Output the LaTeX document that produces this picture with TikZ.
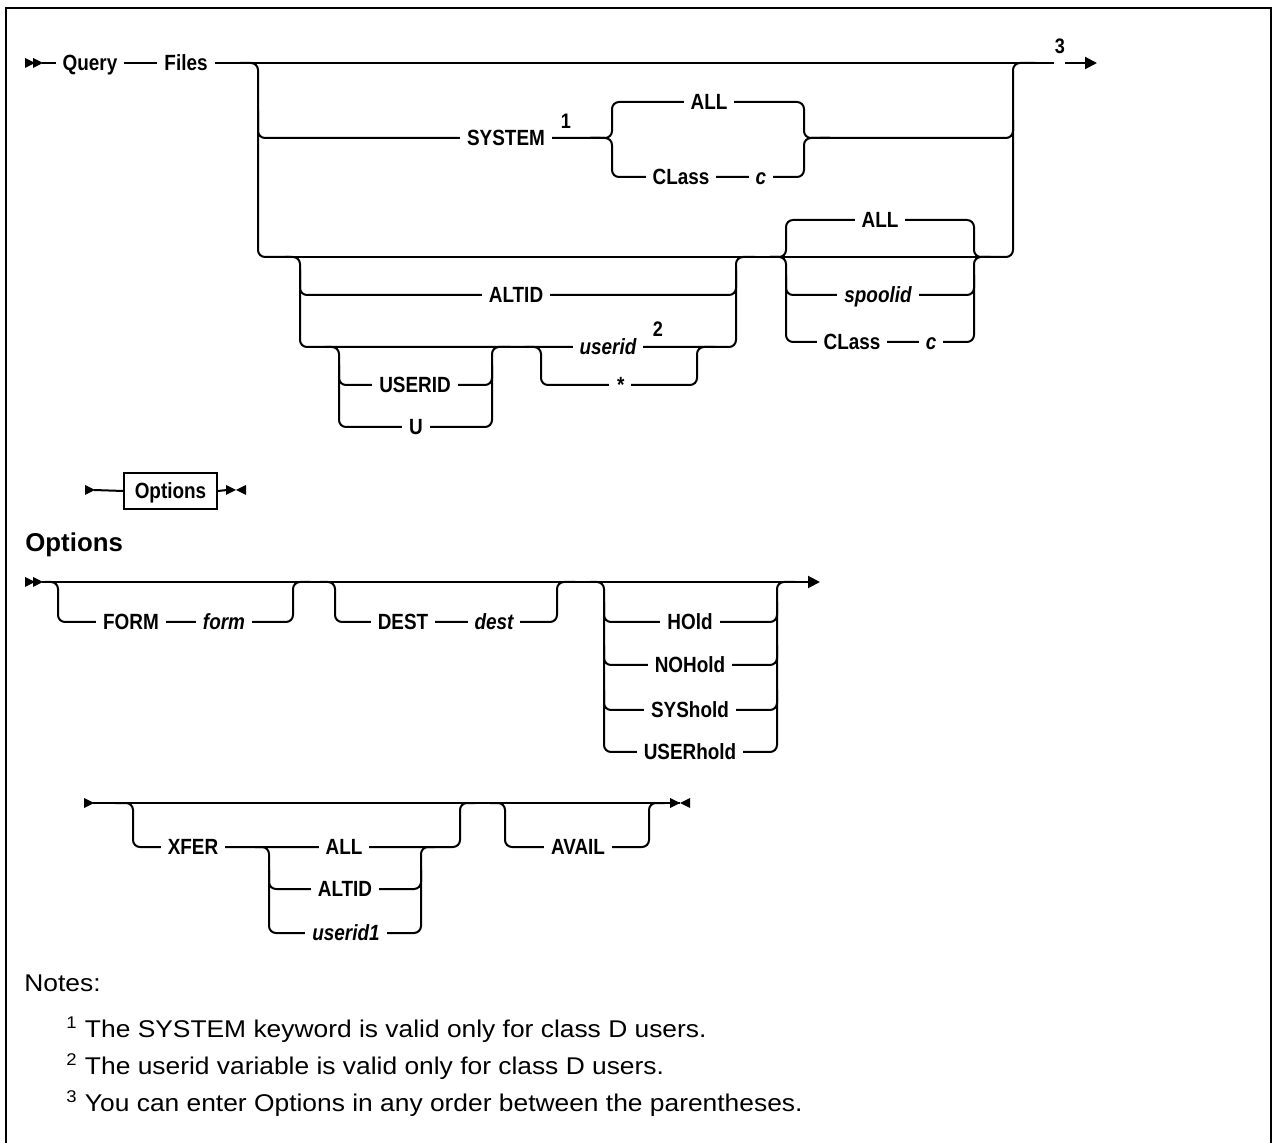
\documentclass[tikz,border=0pt]{standalone}
\usepackage{fontspec}
\setmainfont{Liberation Sans}
\newfontfamily\labelfont[FakeStretch=0.86]{Liberation Sans}
\newfontfamily\notefont[FakeStretch=1.09]{Liberation Sans}
\usetikzlibrary{arrows.meta}

\tikzset{
  rail/.style={line width=1pt},
  railturn/.style={rail,rounded corners=3.5pt},
  kw/.style={font=\labelfont\bfseries\fontsize{11}{13}\selectfont,fill=white,inner xsep=3.5pt,inner ysep=1pt,text height=7.9pt,text depth=0pt},
  var/.style={kw,font=\labelfont\bfseries\itshape\fontsize{11}{13}\selectfont},
  fnote/.style={font=\labelfont\bfseries\fontsize{10.5}{12}\selectfont,inner sep=0pt},
  note/.style={font=\notefont\fontsize{12.1}{14}\selectfont,anchor=base west,inner sep=0pt},
}

\begin{document}
\begin{tikzpicture}[x=0.5pt,y=-0.5pt]
\useasboundingbox (0,0) rectangle (1274,1143);
\draw[line width=1pt] (6,1143) -- (6,8) -- (1271,8) -- (1271,1143);

% Query Files
\fill (25,58) -- (35,63) -- (25,68) -- cycle;
\fill (33,58) -- (43,63) -- (33,68) -- cycle;
\draw[rail] (42,63) -- (1054,63);
\draw[railturn] (240,63) -| (258,257) -- (290,257);
\draw[rail] (280,257) -- (1000,257);
\draw[railturn] (258,110) |- (600,138);
\draw[railturn] (590,138) -| (612,102) -| (804,138) -- (830,138);
\draw[railturn] (590,138) -| (612,177) -| (804,138) -- (830,138);
\draw[railturn] (820,138) -| (1013,120);
\draw[railturn] (990,257) -| (1013,63) -- (1035,63);
\draw[rail,-{Triangle[length=6pt,width=6pt]}] (1065,63) -- (1097,63);
% ALTID / USERID
\draw[railturn] (285,257) -| (300,347) -| (736,257) -- (755,257);
\draw[railturn] (300,270) |- (736,295) -- (736,270);
\draw[railturn] (325,347) -| (339,427) -| (492,347) -- (510,347);
\draw[railturn] (339,365) |- (492,385) -- (492,365);
\draw[railturn] (525,347) -| (541,385) -| (697,347) -- (715,347);
% spoolid
\draw[railturn] (770,257) -| (786,220) -| (974,257) -- (990,257);
\draw[railturn] (770,257) -| (786,342) -| (974,257) -- (990,257);
\draw[railturn] (786,275) |- (974,295) -- (974,275);

\node[kw] (query) at (90,63) {Query};
\node[kw] (files) at (186,63) {Files};
\node[kw] (system) at (506,138) {SYSTEM};
\node[fnote] (fn1) at (566,121) {1};
\node[kw] (sysall) at (709,102) {ALL};
\node[kw] (syscls) at (681,177) {CLass};
\node[var] (sysc) at (761,177) {c};
\node[kw] (altid) at (516,295) {ALTID};
\node[var] (userid) at (608,347) {userid};
\node[fnote] (fn2) at (658,329) {2};
\node[var] (star) at (620,385) {*};
\node[kw] (useridkw) at (415,385) {USERID};
\node[kw] (ukw) at (416,427) {U};
\node[kw] (spall) at (880,220) {ALL};
\node[var] (spoolid) at (878,295) {spoolid};
\node[kw] (spcls) at (852,342) {CLass};
\node[var] (spc) at (931,342) {c};
\node[fnote] (fn3) at (1060,46) {3};

% Options reference
\node[kw,draw,line width=1pt,minimum width=46.5pt,minimum height=18pt] (optbox) at (170.5,491) {Options};
\fill (85,485) -- (95,490) -- (85,495) -- cycle;
\draw[rail] (94,490) -- (optbox.west);
\draw[rail] (optbox.east) -- (227,490);
\fill (226,485) -- (236,490) -- (226,495) -- cycle;
\fill (246,485) -- (236,490) -- (246,495) -- cycle;

\node[font=\bfseries\fontsize{12.9}{15}\selectfont,anchor=base west,inner sep=0pt] (opthead) at (25,552) {Options};

% Options, first line
\fill (25,577) -- (35,582) -- (25,587) -- cycle;
\fill (33,577) -- (43,582) -- (33,587) -- cycle;
\draw[rail,-{Triangle[length=6pt,width=6pt]}] (42,582) -- (820,582);
\draw[railturn] (45,582) -| (58,622) -| (293,582) -- (310,582);
\draw[railturn] (320,582) -| (335,622) -| (557,582) -- (575,582);
\draw[railturn] (590,582) -| (604,752) -| (777,582) -- (795,582);
\foreach \y in {622,665,710}
  \draw[railturn] (604,{\y-20}) |- (777,\y) -- (777,{\y-20});

\node[kw] (form) at (131,622) {FORM};
\node[var] (formv) at (224,622) {form};
\node[kw] (dest) at (403,622) {DEST};
\node[var] (destv) at (494,622) {dest};
\node[kw] (hold) at (690,622) {HOld};
\node[kw] (nohold) at (690,665) {NOHold};
\node[kw] (syshold) at (690,710) {SYShold};
\node[kw] (userhold) at (690,752) {USERhold};

% Options, second line
\fill (84,798) -- (94,803) -- (84,808) -- cycle;
\draw[rail] (93,803) -- (680,803);
\draw[railturn] (115,803) -| (133,847) -| (460,803) -- (475,803);
\draw[railturn] (255,847) -| (269,933) -| (421,847) -- (435,847);
\draw[railturn] (269,870) |- (421,889) -- (421,870);
\draw[railturn] (490,803) -| (505,847) -| (649,803) -- (665,803);
\fill (670,798) -- (680,803) -- (670,808) -- cycle;
\fill (690,798) -- (680,803) -- (690,808) -- cycle;

\node[kw] (xfer) at (193,847) {XFER};
\node[kw] (xall) at (344,847) {ALL};
\node[kw] (xaltid) at (345,889) {ALTID};
\node[var] (xuser) at (346,933) {userid1};
\node[kw] (avail) at (578,847) {AVAIL};

% notes
\node[note] (notes) at (24,991) {Notes:};
\node[note] (note1) at (66,1037) {\textsuperscript{1} The SYSTEM keyword is valid only for class D users.};
\node[note] (note2) at (66,1074) {\textsuperscript{2} The userid variable is valid only for class D users.};
\node[note] (note3) at (66,1111) {\textsuperscript{3} You can enter Options in any order between the parentheses.};
\end{tikzpicture}
\end{document}
